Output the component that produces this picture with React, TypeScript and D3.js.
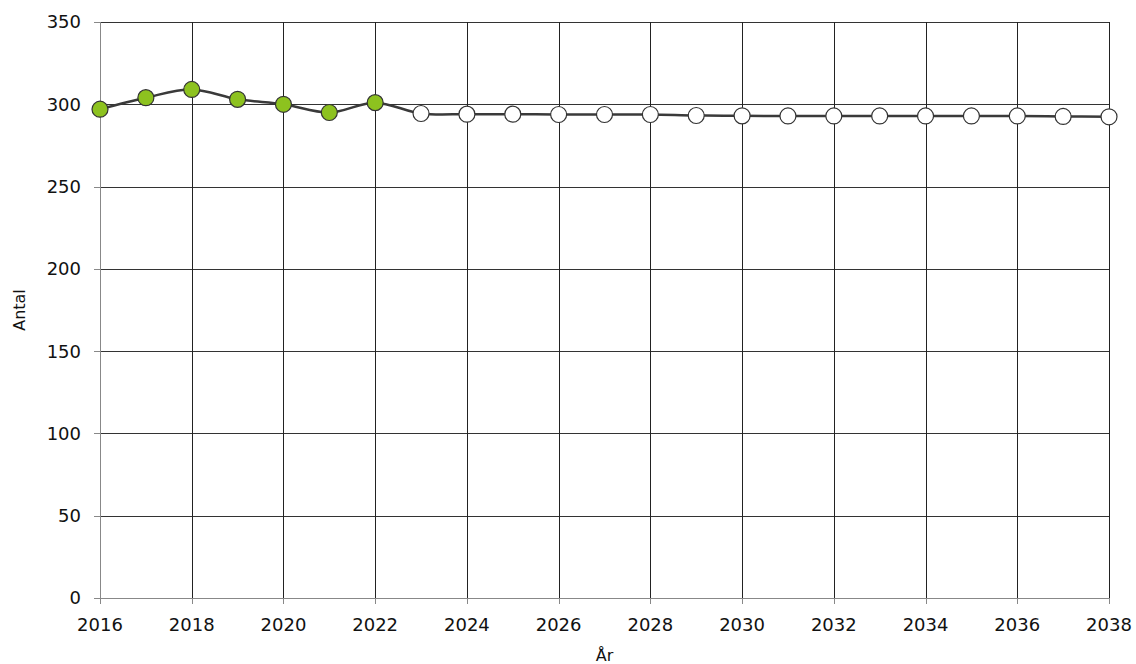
import React from "react";
import * as d3 from "d3";

const years = d3.range(2016, 2039);
const observed = [297, 304, 309, 303, 300, 295, 301];
const forecast = [294.4, 294, 294, 293.8, 293.8, 293.8, 293.2, 293, 292.9, 292.9, 292.9, 292.9, 292.9, 292.9, 292.6, 292.4, 292.3];
const yTicks = [0, 50, 100, 150, 200, 250, 300, 350];
const xTicks = d3.range(2016, 2039, 2);

export default function App() {
  const W = 1136, H = 664;
  const left = 100, right = 1109, top = 22, bottom = 598;
  const x = d3.scaleLinear().domain([2016, 2038]).range([left, right]);
  const y = d3.scaleLinear().domain([0, 350]).range([bottom, top]);
  const values = [...observed, ...forecast];
  const pts = years.map((yr, i) => [x(yr), y(values[i])] as [number, number]);
  const line = d3.line().curve(d3.curveCatmullRom.alpha(0.5))(pts) || "";
  const font = "'DejaVu Sans', Verdana, sans-serif";
  return (
    <svg width={W} height={H} style={{ position: "absolute", left: 0, top: 0 }} fontFamily={font}>
      <rect x={0} y={0} width={W} height={H} fill="#fff" />
      {yTicks.map((t) => (
        <g key={"y" + t}>
          <line x1={left - 6} x2={left} y1={Math.round(y(t)) + 0.5} y2={Math.round(y(t)) + 0.5} stroke="#888" />
          {t > 0 && <line x1={left} x2={right} y1={Math.round(y(t)) + 0.5} y2={Math.round(y(t)) + 0.5} stroke="#333" />}
          <text x={left - 19} y={y(t)} dy="0.36em" textAnchor="end" fontSize={18} fill="#111">{t}</text>
        </g>
      ))}
      {xTicks.map((t) => (
        <g key={"x" + t}>
          {t > 2016 && <line x1={Math.round(x(t)) + 0.5} x2={Math.round(x(t)) + 0.5} y1={top} y2={bottom} stroke="#222" />}
          <line x1={Math.round(x(t)) + 0.5} x2={Math.round(x(t)) + 0.5} y1={bottom} y2={bottom + 6} stroke="#888" />
          <text x={x(t)} y={bottom + 33} textAnchor="middle" fontSize={18} fill="#111">{t}</text>
        </g>
      ))}
      <line x1={left + 0.5} x2={left + 0.5} y1={top} y2={bottom} stroke="#888" />
      <line x1={left} x2={right} y1={bottom + 0.5} y2={bottom + 0.5} stroke="#888" />
      <path d={line} fill="none" stroke="#3a3a3a" strokeWidth={2.5} />
      {pts.map(([px, py], i) => (
        <circle key={i} cx={px} cy={py} r={8} fill={i < observed.length ? "#8dc21f" : "#fff"} stroke="#333" strokeWidth={1.2} />
      ))}
      <text x={(left + right) / 2} y={661} textAnchor="middle" fontSize={16} fill="#111">År</text>
      <text transform={`translate(25, ${(top + bottom) / 2}) rotate(-90)`} textAnchor="middle" fontSize={16} fill="#111">Antal</text>
    </svg>
  );
}
